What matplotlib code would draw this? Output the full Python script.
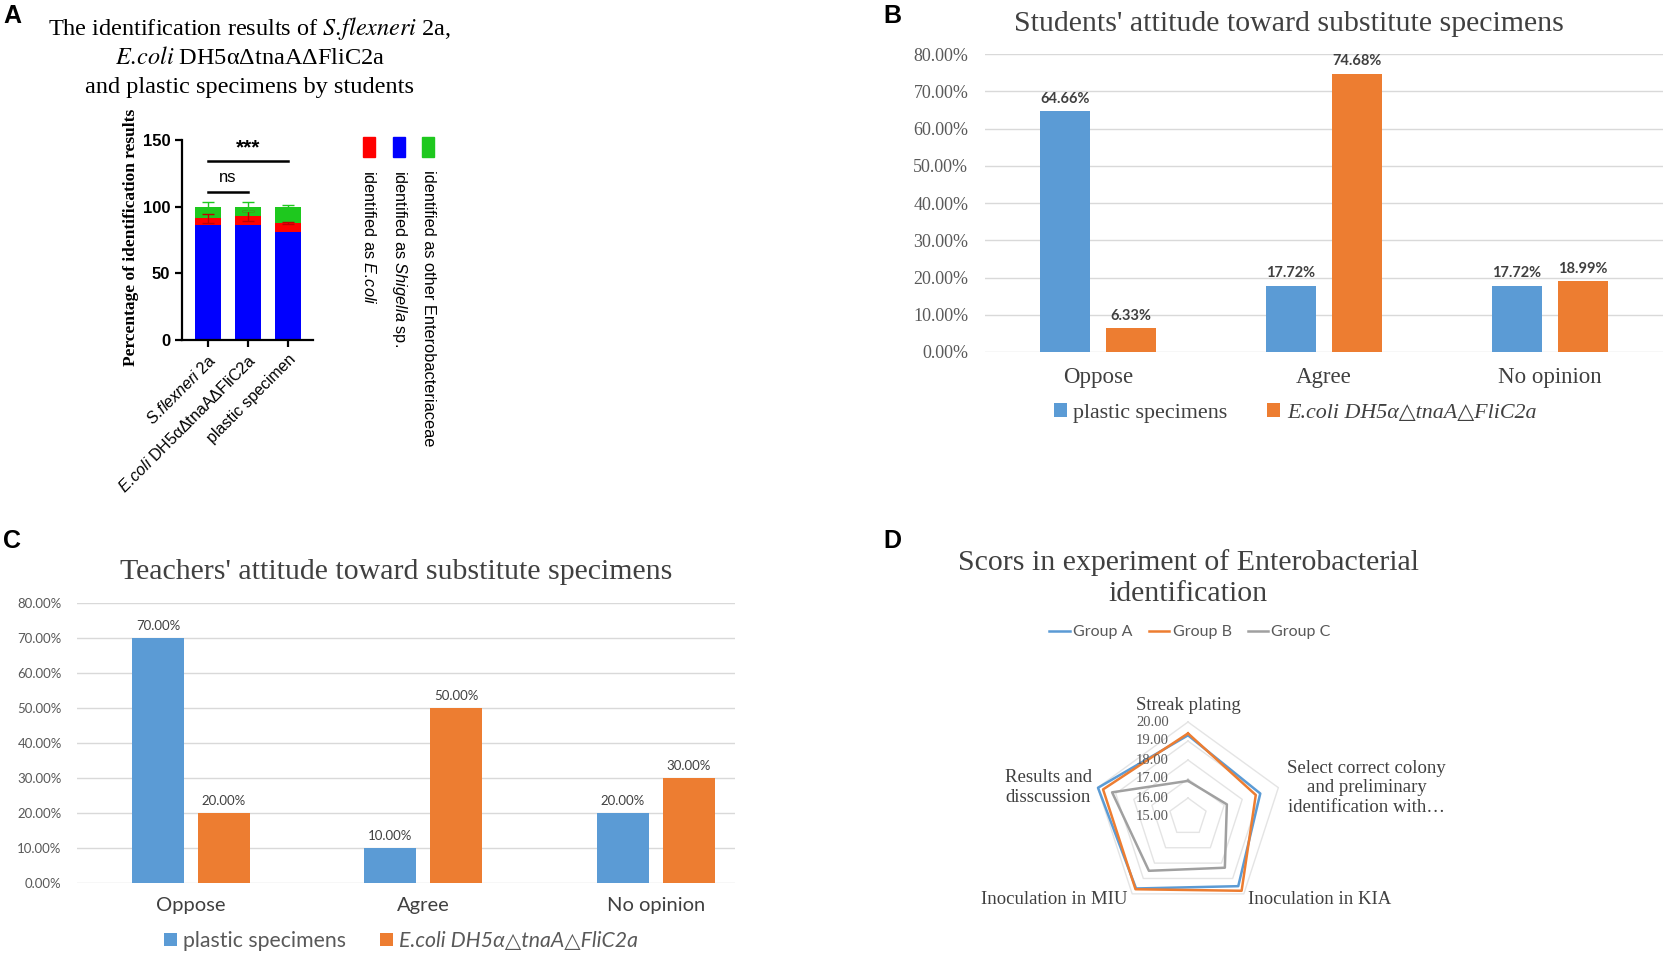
import numpy as np
import matplotlib
matplotlib.use("Agg")
from matplotlib import pyplot as plt
from matplotlib.patches import Rectangle
from matplotlib.ticker import FuncFormatter

# ---- data ----
# A: stacked identification results (%)
a_groups = ["$\\it{S.\\!flexneri}$ 2a", "$\\it{E.\\!coli}$ DH5α\u0394tnaA\u0394FliC2a", "plastic specimen"]
a_shigella = [86.5, 86.5, 81.0]
a_ecoli = [4.8, 6.5, 6.8]
a_other = [8.7, 7.0, 12.2]
a_ecoli_err = [3.5, 3.5, 1.0]
a_other_err = [3.5, 3.5, 1.5]
a_legend = ["identified as $\\it{E.\\!coli}$", "identified as $\\it{Shigella}$ sp.",
            "identified as other Enterobacteriaceae"]

# B: students' attitude (%)
att_cats = ["Oppose", "Agree", "No opinion"]
b_plastic = [64.66, 17.72, 17.72]
b_ecoli = [6.33, 74.68, 18.99]

# C: teachers' attitude (%)
c_plastic = [70.00, 10.00, 20.00]
c_ecoli = [20.00, 50.00, 30.00]

series_names = ["plastic specimens", "E.coli DH5α\u25b3tnaA\u25b3FliC2a"]

# D: radar scores
d_axes = ["Streak plating",
          "Select correct colony\nand preliminary\nidentification with\u2026",
          "Inoculation in KIA", "Inoculation in MIU", "Results and\ndisscussion"]
d_group_a = [19.30, 19.00, 19.50, 19.65, 19.98]
d_group_b = [19.40, 18.75, 19.80, 19.70, 19.70]
d_group_c = [16.90, 17.15, 18.30, 18.50, 19.20]
d_levels = [15, 16, 17, 18, 19, 20]

BLUE = "#5B9BD5"
ORANGE = "#ED7D31"
GRAY = "#A0A0A0"

plt.rcParams["mathtext.fontset"] = "custom"
plt.rcParams["mathtext.it"] = "Liberation Sans:italic"
plt.rcParams["mathtext.rm"] = "Liberation Sans"

W, H = 1666, 957
fig = plt.figure(figsize=(W / 100, H / 100), dpi=100)


def fx(x):
    return x / W


def fy(y):
    return 1 - y / H


def rect(l, t, r, b):
    return [l / W, 1 - b / H, (r - l) / W, (b - t) / H]


SERIF = ["Liberation Serif", "DejaVu Serif"]
SANS = ["Liberation Sans", "DejaVu Sans"]
CAL = ["Lato", "DejaVu Sans"]

# panel letters
for lab, x, y in [("A", 12, 16), ("B", 892, 16), ("C", 12, 541), ("D", 892, 541)]:
    fig.text(fx(x), fy(y), lab, family=SANS, weight="bold", fontsize=18, ha="center", va="center")

# ================= A =================
axA = fig.add_axes(rect(182, 140, 313, 340))
xa = np.arange(len(a_groups))
sh = np.array(a_shigella)
ec = np.array(a_ecoli)
ot = np.array(a_other)
axA.bar(xa, sh, 0.67, color="#0000FF")
axA.bar(xa, ec, 0.67, bottom=sh, color="#FF0000", yerr=a_ecoli_err,
        error_kw=dict(ecolor="#C00000", capsize=4, elinewidth=1, capthick=1))
axA.bar(xa, ot, 0.67, bottom=sh + ec, color="#1EC81E", yerr=a_other_err,
        error_kw=dict(ecolor="#1EC81E", capsize=4, elinewidth=1, capthick=1))
axA.set_xlim(-0.65, 2.625)
axA.set_ylim(0, 150)
axA.set_yticks([0, 50, 100, 150])
for s in ["top", "right"]:
    axA.spines[s].set_visible(False)
for s in ["left", "bottom"]:
    axA.spines[s].set_linewidth(1.6)
axA.tick_params(width=1.6, length=5)
for t in axA.get_yticklabels():
    t.set_family(SANS)
    t.set_weight("bold")
    t.set_fontsize(12)
axA.set_xticks(xa)
axA.set_xticklabels(a_groups, rotation=45, ha="right", rotation_mode="anchor",
                    family=SANS, fontsize=11.5)
axA.set_ylabel("Percentage of identification results", family=SERIF, weight="bold", fontsize=12.5)
axA.yaxis.set_label_coords(-0.33, 0.515)

axA.plot([0, 1], [111, 111], color="k", lw=1.8, clip_on=False)
axA.text(0.5, 122, "ns", ha="center", va="center", family=SANS, fontsize=12)
axA.plot([0, 2], [134, 134], color="k", lw=1.8, clip_on=False)
axA.text(1, 144, "***", ha="center", va="center", family=SANS, weight="bold", fontsize=15)

fig.text(fx(250), fy(28), "The identification results of $\\it{S.\\!flexneri}$ 2a,",
         family=SERIF, math_fontfamily="stix", fontsize=17.5, ha="center", va="center")
fig.text(fx(250), fy(58), "$\\it{E.\\!coli}$ DH5α\u0394tnaA\u0394FliC2a",
         family=SERIF, math_fontfamily="stix", fontsize=17.5, ha="center", va="center")
fig.text(fx(250), fy(87), "and plastic specimens by students",
         family=SERIF, fontsize=17.5, ha="center", va="center")

for lab, col, cx in zip(a_legend, ["#FF0000", "#0000FF", "#1EC81E"], [369, 399, 428]):
    fig.add_artist(Rectangle((fx(cx - 6), fy(157)), 12 / W, 20 / H, color=col,
                             transform=fig.transFigure))
    fig.text(fx(cx), fy(170), lab, rotation=270, ha="center", va="top",
             family=SANS, fontsize=11.8)


# ================= B / C bar charts =================
def attitude(ax, plastic, ecoli, xlim, off, w, lab_font, tick_font, cat_font,
             lab_size, tick_size, cat_size, lab_weight, pads):
    x = np.arange(len(att_cats))
    b1 = ax.bar(x - off, plastic, w, color=BLUE, label=series_names[0])
    b2 = ax.bar(x + off, ecoli, w, color=ORANGE, label=series_names[1])
    ax.set_xlim(*xlim)
    ax.set_ylim(0, 80)
    ax.set_yticks(np.arange(0, 81, 10))
    ax.yaxis.set_major_formatter(FuncFormatter(lambda v, p: f"{v:.2f}%"))
    ax.grid(axis="y", color="#D9D9D9", lw=1)
    ax.set_axisbelow(True)
    for s in ax.spines.values():
        s.set_visible(False)
    ax.tick_params(length=0)
    ax.tick_params(axis="y", pad=pads[0], labelsize=tick_size, labelcolor="#595959")
    ax.tick_params(axis="x", pad=pads[1], labelsize=cat_size, labelcolor="#404040")
    for t in ax.get_yticklabels():
        t.set_family(tick_font)
    ax.set_xticks(x)
    ax.set_xticklabels(att_cats, family=cat_font)
    for bars, vals in [(b1, plastic), (b2, ecoli)]:
        ax.bar_label(bars, labels=[f"{v:.2f}%" for v in vals], padding=4,
                     family=lab_font, fontsize=lab_size, color="#404040", weight=lab_weight)
    return b1, b2


axB = fig.add_axes(rect(985, 54, 1663, 352))
hB = attitude(axB, b_plastic, b_ecoli, (-0.5, 2.5), 0.146, 0.225, CAL, SERIF, SERIF,
              10.5, 13, 16.5, "bold", (12, 11))
legB = fig.legend(hB, series_names, loc="center", bbox_to_anchor=(fx(1295), fy(413)), ncol=2,
                  frameon=False, handlelength=0.6, handleheight=0.6, handletextpad=0.3,
                  columnspacing=1.8, prop=dict(family=SERIF, size=15.8))
legB.get_texts()[1].set_fontstyle("italic")
for t in legB.get_texts():
    t.set_color("#404040")
fig.text(fx(1289), fy(24), "Students' attitude toward substitute specimens", family=SERIF,
         fontsize=21.5, color="#404040", ha="center", va="center")

axC = fig.add_axes(rect(77, 603, 735, 883))
hC = attitude(axC, c_plastic, c_ecoli, (-0.49, 2.34), 0.142, 0.224, CAL, CAL, CAL,
              9.5, 9.5, 14.5, "normal", (11, 10))
legC = fig.legend(hC, series_names, loc="center", bbox_to_anchor=(fx(401), fy(941)), ncol=2,
                  frameon=False, handlelength=0.6, handleheight=0.6, handletextpad=0.3,
                  columnspacing=1.6, prop=dict(family=CAL, size=15.3))
legC.get_texts()[1].set_fontstyle("italic")
for t in legC.get_texts():
    t.set_color("#595959")
fig.text(fx(396), fy(572), "Teachers' attitude toward substitute specimens", family=SERIF,
         fontsize=21.5, color="#404040", ha="center", va="center")

# ================= D radar =================
axD = fig.add_axes(rect(1093, 722, 1283, 912), projection="polar")
axD.set_theta_offset(np.pi / 2)
axD.set_theta_direction(-1)
axD.set_ylim(d_levels[0], d_levels[-1])
axD.set_xticks([])
axD.set_yticks([])
axD.grid(False)
axD.spines["polar"].set_visible(False)
axD.patch.set_visible(False)
ang = np.linspace(0, 2 * np.pi, len(d_axes), endpoint=False)
ang_c = np.append(ang, ang[0])
for lv in d_levels[1:]:
    axD.plot(ang_c, [lv] * len(ang_c), color="#E4E4E4", lw=1, clip_on=False)
lines = []
for vals, col, name in [(d_group_a, BLUE, "Group A"), (d_group_b, ORANGE, "Group B"),
                        (d_group_c, GRAY, "Group C")]:
    ln, = axD.plot(ang_c, vals + vals[:1], color=col, lw=1.8, label=name, clip_on=False)
    lines.append(ln)
for lv in d_levels:
    axD.annotate(f"{lv:.2f}", (0, lv), xytext=(-19, 0), textcoords="offset pixels",
                 ha="right", va="center", family=SERIF, fontsize=10.5, color="#595959")
offs = [((0, 17), "center", "center"), ((9, 0), "left", "center"), ((4, -6), "left", "center"),
        ((-5, -6), "right", "center"), ((-6, 0), "right", "center")]
for a, lab, (xy, ha, va) in zip(ang, d_axes, offs):
    axD.annotate(lab, (a, d_levels[-1]), xytext=xy, textcoords="offset pixels", ha=ha, va=va,
                 multialignment="center", family=SERIF, fontsize=13.5, color="#404040",
                 annotation_clip=False)
legD = fig.legend(lines, ["Group A", "Group B", "Group C"], loc="center",
                  bbox_to_anchor=(fx(1190), fy(632)), ncol=3, frameon=False, handlelength=1.3,
                  handletextpad=0.2, columnspacing=1.0, prop=dict(family=CAL, size=11.5))
for t in legD.get_texts():
    t.set_color("#595959")
fig.text(fx(1188), fy(578), "Scors in experiment of Enterobacterial\nidentification", family=SERIF,
         fontsize=21.5, color="#404040", ha="center", va="center", linespacing=1.22)

fig.savefig("out.png", dpi=100)
